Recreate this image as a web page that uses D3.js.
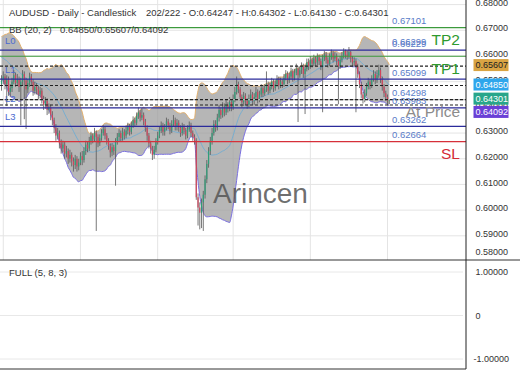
<!DOCTYPE html>
<html>
<head>
<meta charset="utf-8">
<script src="https://cdn.jsdelivr.net/npm/d3@7"></script>
<style>
  body { margin: 0; background: #fff; }
  svg { display: block; font-family: "Liberation Sans", Arial, sans-serif; }
</style>
</head>
<body>
<div id="chart"></div>
<script>
// ---- data (prices in pips, 1e-4) ----
const symbol = "AUDUSD";
const timeframe = "Daily";
const chartType = "Candlestick";
const barCounter = "202/222";
const bbParams = [20, 2];
const bbLatest = [0.64850, 0.65607, 0.64092]; // mid / upper / lower
const oscName = "FULL (5, 8, 3)";

// closes before the first visible bar, only used to seed BB(20, 2)
const priorCloses = [6580, 6600, 6590, 6610, 6620, 6600, 6615, 6630, 6610, 6625,
  6640, 6620, 6635, 6610, 6620, 6590, 6560, 6530, 6490];

const closes = [
  6505, 6520, 6490, 6510, 6460, 6475, 6500, 6525, 6495, 6510,
  6480, 6500, 6530, 6505, 6470, 6495, 6520, 6500, 6465, 6480,
  6470, 6450, 6465, 6430, 6410, 6425, 6390, 6400, 6370, 6350,
  6320, 6290, 6300, 6260, 6240, 6255, 6220, 6230, 6200, 6215,
  6190, 6175, 6200, 6170, 6185, 6210, 6195, 6230, 6255, 6240,
  6270, 6290, 6275, 6300, 6285, 6260, 6280, 6300, 6315, 6290,
  6270, 6250, 6225, 6245, 6230, 6265, 6285, 6300, 6280, 6305,
  6290, 6310, 6325, 6305, 6330, 6350, 6340, 6365, 6380, 6360,
  6370, 6345, 6320, 6290, 6260, 6240, 6215, 6235, 6265, 6290,
  6310, 6330, 6305, 6320, 6345, 6330, 6310, 6335, 6350, 6325,
  6340, 6320, 6300, 6325, 6310, 6290, 6315, 6330, 6300, 6285,
  6270, 6050, 6010, 5990, 6030, 6060, 6120, 6180, 6230, 6270,
  6300, 6335, 6320, 6360, 6390, 6370, 6400, 6380, 6410, 6395,
  6420, 6400, 6430, 6460, 6490, 6470, 6440, 6420, 6445, 6425,
  6410, 6435, 6450, 6425, 6440, 6460, 6430, 6450, 6475, 6455,
  6470, 6490, 6465, 6480, 6500, 6475, 6490, 6510, 6485, 6500,
  6490, 6515, 6530, 6505, 6520, 6540, 6515, 6535, 6550, 6525,
  6545, 6560, 6530, 6550, 6575, 6560, 6585, 6570, 6590, 6575,
  6595, 6580, 6560, 6590, 6605, 6585, 6570, 6595, 6610, 6590,
  6600, 6580, 6560, 6585, 6600, 6620, 6605, 6600, 6615, 6590,
  6575, 6580, 6560, 6530, 6490, 6450, 6430, 6455, 6480, 6500,
  6485, 6510, 6530, 6505, 6525, 6545, 6510, 6480, 6455, 6440,
  6424.7, 6430.1
];

const highs = [
  6525, 6540, 6530, 6525, 6520, 6490, 6515, 6545, 6535, 6530,
  6520, 6515, 6545, 6540, 6515, 6510, 6535, 6530, 6510, 6500,
  6495, 6485, 6480, 6475, 6445, 6440, 6435, 6415, 6410, 6385,
  6360, 6335, 6320, 6310, 6275, 6270, 6265, 6250, 6240, 6235,
  6225, 6205, 6215, 6210, 6200, 6225, 6230, 6245, 6270, 6265,
  6285, 6305, 6300, 6320, 6310, 6295, 6295, 6315, 6330, 6325,
  6300, 6280, 6260, 6260, 6255, 6280, 6300, 6315, 6310, 6320,
  6315, 6325, 6340, 6335, 6345, 6365, 6360, 6380, 6400, 6390,
  6395, 6380, 6355, 6330, 6300, 6270, 6250, 6250, 6280, 6305,
  6325, 6345, 6340, 6335, 6360, 6355, 6340, 6350, 6370, 6360,
  6355, 6350, 6330, 6340, 6335, 6320, 6330, 6345, 6340, 6310,
  6295, 6280, 6065, 6030, 6045, 6075, 6135, 6195, 6245, 6285,
  6320, 6350, 6350, 6375, 6410, 6400, 6420, 6415, 6430, 6420,
  6440, 6430, 6450, 6480, 6520, 6500, 6480, 6450, 6460, 6455,
  6435, 6450, 6470, 6460, 6455, 6480, 6470, 6465, 6490, 6485,
  6490, 6540, 6500, 6495, 6515, 6510, 6505, 6525, 6520, 6515,
  6510, 6530, 6545, 6540, 6535, 6555, 6550, 6550, 6570, 6560,
  6560, 6575, 6570, 6565, 6590, 6590, 6600, 6595, 6605, 6600,
  6610, 6605, 6590, 6605, 6620, 6615, 6595, 6610, 6625, 6620,
  6615, 6610, 6590, 6600, 6615, 6630, 6625, 6620, 6635, 6620,
  6600, 6595, 6590, 6570, 6540, 6500, 6460, 6470, 6495, 6515,
  6510, 6525, 6545, 6540, 6545, 6566, 6555, 6520, 6490, 6465,
  6450, 6430.2
];

const lows = [
  6465, 6490, 6470, 6405, 6445, 6440, 6460, 6490, 6480, 6485,
  6460, 6330, 6485, 6354, 6316, 6455, 6480, 6485, 6445, 6450,
  6450, 6430, 6435, 6415, 6390, 6395, 6370, 6375, 6350, 6330,
  6300, 6270, 6275, 6240, 6220, 6225, 6200, 6205, 6180, 6185,
  6170, 6150, 6160, 6150, 6155, 6175, 6175, 6185, 6215, 6225,
  6230, 6255, 6260, 6265, 5919, 6245, 6250, 6270, 6290, 6275,
  6255, 6235, 6205, 6210, 6215, 6095, 6255, 6270, 6265, 6270,
  6275, 6280, 6295, 6290, 6295, 6320, 6325, 6330, 6355, 6345,
  6350, 6330, 6305, 6270, 6240, 6220, 6195, 6200, 6225, 6255,
  6280, 6300, 6290, 6290, 6310, 6315, 6295, 6300, 6325, 6310,
  6310, 6305, 6285, 6290, 6295, 6275, 6280, 6305, 6285, 6270,
  6255, 6040, 5940, 5925, 5930, 5919, 6045, 6105, 6165, 6215,
  6255, 6290, 6305, 6310, 6345, 6355, 6360, 6365, 6370, 6380,
  6385, 6385, 6390, 6420, 6450, 6455, 6425, 6400, 6405, 6410,
  6395, 6400, 6425, 6410, 6410, 6430, 6415, 6420, 6440, 6440,
  6445, 6460, 6450, 6455, 6470, 6460, 6465, 6480, 6470, 6475,
  6475, 6480, 6505, 6490, 6495, 6510, 6500, 6505, 6525, 6343,
  6515, 6530, 6515, 6374, 6540, 6545, 6550, 6555, 6560, 6560,
  6565, 6565, 6545, 6381, 6580, 6570, 6555, 6560, 6585, 6575,
  6580, 6565, 6412, 6550, 6575, 6590, 6590, 6585, 6590, 6575,
  6560, 6560, 6381, 6515, 6475, 6435, 6415, 6420, 6445, 6470,
  6470, 6475, 6500, 6490, 6495, 6515, 6495, 6465, 6440, 6425,
  6410, 6413.0
];

const priceTicks = [0.58, 0.59, 0.60, 0.61, 0.62, 0.63, 0.64, 0.65, 0.66, 0.67, 0.68];
const oscTicks = [1, 0, -1];
const dateTickBars = [1, 45, 89, 132, 176, 220];

// horizontal levels drawn on the chart
const levelValues = [0.67101, 0.66299, 0.66229, 0.65990, 0.65099, 0.64298, 0.63983, 0.63262, 0.62664];
const levelKinds  = ["tp", "pivot", "pivot", "tp", "pivot", "price", "pivot", "pivot", "sl"];
const levelTags   = ["TP2", "", "L0", "TP1", "L1", "At Price", "L2", "L3", "SL"];
const levelShowValue = [true, true, true, false, true, true, true, true, true];
const levelShowLine  = [true, false, true, true, true, true, true, true, true];

// ---- derived ----
const P = v => v / 10000;
const lastClose = P(closes[closes.length - 1]);
// open of each bar taken as the previous close
const opens = closes.map((c, i) => i === 0 ? priorCloses[priorCloses.length - 1] : closes[i - 1]);
const bars = closes.map((c, i) => ({ i, o: P(opens[i]), h: P(highs[i]), l: P(lows[i]), c: P(c) }));

const allCloses = priorCloses.concat(closes);
const bb = closes.map((c, i) => {
  const win = allCloses.slice(i, i + bbParams[0]).map(P);
  const m = d3.mean(win);
  const sd = Math.sqrt(d3.mean(win, v => (v - m) ** 2));
  return { i, mid: m, up: m + bbParams[1] * sd, lo: m - bbParams[1] * sd };
});

// ---- layout ----
const W = 520, H = 390;
const plotRight = 466;
const mainTop = 0, mainBottom = 260;
const oscBottom = 369;

const x = d3.scaleLinear().domain([0, closes.length - 1]).range([1.5, 389.3]);
const y = d3.scaleLinear().domain([0.58, 0.68]).range([261.5, 4.6]);
const yOsc = d3.scaleLinear().domain([-1, 1]).range([359, 272]);

const svg = d3.select("#chart").append("svg").attr("width", W).attr("height", H);

svg.append("defs").append("clipPath").attr("id", "mainClip")
  .append("rect").attr("x", 0).attr("y", mainTop).attr("width", plotRight).attr("height", mainBottom - mainTop);

const main = svg.append("g").attr("clip-path", "url(#mainClip)");

// grid
main.selectAll(".hgrid").data(priceTicks).enter().append("line")
  .attr("x1", 0).attr("x2", plotRight)
  .attr("y1", d => y(d)).attr("y2", d => y(d))
  .attr("stroke", "#e4e4e4").attr("stroke-width", 1);
main.selectAll(".vgrid").data(dateTickBars).enter().append("line")
  .attr("x1", d => x(d)).attr("x2", d => x(d))
  .attr("y1", mainTop).attr("y2", mainBottom)
  .attr("stroke", "#e4e4e4").attr("stroke-width", 1);

// Bollinger band
main.append("path").datum(bb)
  .attr("d", d3.area().x(d => x(d.i)).y0(d => y(d.lo)).y1(d => y(d.up)).curve(d3.curveMonotoneX))
  .attr("fill", "#9e9e9e").attr("fill-opacity", 0.75);
const bbLine = key => d3.line().x(d => x(d.i)).y(d => y(d[key])).curve(d3.curveMonotoneX);
main.append("path").datum(bb).attr("d", bbLine("up")).attr("fill", "none").attr("stroke", "#e2b06e").attr("stroke-width", 1);
main.append("path").datum(bb).attr("d", bbLine("lo")).attr("fill", "none").attr("stroke", "#7b70e0").attr("stroke-width", 1);
main.append("path").datum(bb).attr("d", bbLine("mid")).attr("fill", "none").attr("stroke", "#78aed0").attr("stroke-width", 1);

// watermark
main.append("text").attr("x", 213).attr("y", 203)
  .attr("font-size", 28).attr("fill", "#555").attr("fill-opacity", 0.85)
  .text("Arincen");

// candles
const upCol = "#2f9e78", dnCol = "#d2445c";
main.selectAll(".wick").data(bars).enter().append("line")
  .attr("x1", d => x(d.i)).attr("x2", d => x(d.i))
  .attr("y1", d => y(d.h)).attr("y2", d => y(d.l))
  .attr("stroke", "#555").attr("stroke-width", 0.8);
main.selectAll(".body").data(bars).enter().append("rect")
  .attr("x", d => x(d.i) - 0.6)
  .attr("y", d => y(Math.max(d.o, d.c)))
  .attr("width", 1.2)
  .attr("height", d => Math.max(0.8, Math.abs(y(d.o) - y(d.c))))
  .attr("fill", d => d.c >= d.o ? upCol : dnCol);

// level lines
const kindColor = { tp: "#3c9a3c", pivot: "#2b2b9b", sl: "#d6303a", price: "#b4b4b4" };
const tagColor = { tp: "#2e9a2e", pivot: "#4a6ad0", sl: "#d42a36", price: "#8c8c8c" };
const levels = levelValues.map((v, k) => ({
  v, kind: levelKinds[k], tag: levelTags[k], showValue: levelShowValue[k], showLine: levelShowLine[k]
}));

main.selectAll(".level").data(levels.filter(d => d.showLine)).enter().append("line")
  .attr("x1", 0).attr("x2", plotRight)
  .attr("y1", d => y(d.v)).attr("y2", d => y(d.v))
  .attr("stroke", d => kindColor[d.kind]).attr("stroke-width", 1.2);

// dashed lines for current BB values and last close
const dashed = [bbLatest[1], bbLatest[0], lastClose, bbLatest[2]];
main.selectAll(".dash").data(dashed).enter().append("line")
  .attr("x1", 0).attr("x2", plotRight)
  .attr("y1", d => y(d)).attr("y2", d => y(d))
  .attr("stroke", "#222").attr("stroke-width", 1.2).attr("stroke-dasharray", "3,2");

// value labels
main.selectAll(".lvlval").data(levels.filter(d => d.showValue)).enter().append("text")
  .attr("x", 392).attr("y", d => y(d.v) - 3.5)
  .attr("font-size", 9.5).attr("fill", "#5a7cc8")
  .text(d => d.v.toFixed(5));

// tags
main.selectAll(".ltag").data(levels.filter(d => d.kind === "pivot" && d.tag)).enter().append("text")
  .attr("x", 5).attr("y", d => y(d.v) - 6)
  .attr("font-size", 9.5).attr("fill", tagColor.pivot)
  .text(d => d.tag);
main.selectAll(".rtag").data(levels.filter(d => d.kind !== "pivot" && d.tag)).enter().append("text")
  .attr("x", 460).attr("y", d => y(d.v) + 17.5)
  .attr("text-anchor", "end")
  .attr("font-size", 15.5).attr("fill", d => tagColor[d.kind])
  .text(d => d.tag);

// panel borders / axis line
svg.append("line").attr("x1", 0).attr("x2", W).attr("y1", mainBottom).attr("y2", mainBottom)
  .attr("stroke", "#333").attr("stroke-width", 1);
svg.append("line").attr("x1", 0).attr("x2", plotRight).attr("y1", oscBottom).attr("y2", oscBottom)
  .attr("stroke", "#333").attr("stroke-width", 1);
svg.append("line").attr("x1", plotRight).attr("x2", plotRight).attr("y1", 0).attr("y2", oscBottom)
  .attr("stroke", "#222").attr("stroke-width", 1);

// price axis labels
svg.selectAll(".ptick").data(priceTicks).enter().append("text")
  .attr("x", 475.5).attr("y", d => Math.min(y(d) - 2, 251.5))
  .attr("dy", "0.35em")
  .attr("font-size", 9).attr("fill", "#333")
  .text(d => d.toFixed(5));

// oscillator panel
svg.selectAll(".ogrid").data(oscTicks).enter().append("line")
  .attr("x1", 0).attr("x2", plotRight - 3)
  .attr("y1", d => yOsc(d)).attr("y2", d => yOsc(d))
  .attr("stroke", "#e8e8e8").attr("stroke-width", 1);
svg.selectAll(".otick").data(oscTicks).enter().append("text")
  .attr("x", d => d < 0 ? 473.5 : 475.5).attr("y", d => yOsc(d))
  .attr("dy", "0.35em")
  .attr("font-size", 9).attr("fill", "#333")
  .text(d => d === 0 ? "0" : d.toFixed(5));
svg.append("text").attr("x", 9).attr("y", 276).attr("font-size", 9.5).attr("fill", "#333").text(oscName);

// badges on the price axis
const badgeVals = [bbLatest[1], bbLatest[0], lastClose, bbLatest[2]];
const badgeFill = ["#d9a443", "#2ea6ec", "#28a68a", "#6a40d6"];
const badgeText = ["#222", "#fff", "#fff", "#fff"];
let prevY = -Infinity;
const badges = badgeVals.map((v, k) => {
  let by = Math.max(y(v) - 1, prevY + 13.3);
  prevY = by;
  return { v, by, fill: badgeFill[k], txt: badgeText[k] };
});
const bg = svg.selectAll(".badge").data(badges).enter().append("g");
bg.append("rect").attr("x", 473.5).attr("y", d => d.by - 6).attr("width", 35).attr("height", 12)
  .attr("fill", d => d.fill);
bg.append("text").attr("x", 475.5).attr("y", d => d.by).attr("dy", "0.35em")
  .attr("font-size", 9).attr("fill", d => d.txt)
  .text(d => d.v.toFixed(5));

// header
const last = bars[bars.length - 1];
svg.append("text").attr("x", 9).attr("y", 16).attr("font-size", 9.5).attr("fill", "#333")
  .text(`${symbol} - ${timeframe} - ${chartType}`);
svg.append("text").attr("x", 146).attr("y", 16).attr("font-size", 9.5).attr("fill", "#333")
  .text(`${barCounter} - O:${last.o.toFixed(5)} - H:${last.h.toFixed(5)} - L:${last.l.toFixed(5)} - C:${last.c.toFixed(5)}`);
svg.append("text").attr("x", 9).attr("y", 33).attr("font-size", 9.5).attr("fill", "#333")
  .text(`BB (${bbParams[0]}, ${bbParams[1]})`);
svg.append("text").attr("x", 60).attr("y", 33).attr("font-size", 9.5).attr("fill", "#333")
  .text(bbLatest.map(v => v.toFixed(5)).join("/"));
</script>
</body>
</html>
